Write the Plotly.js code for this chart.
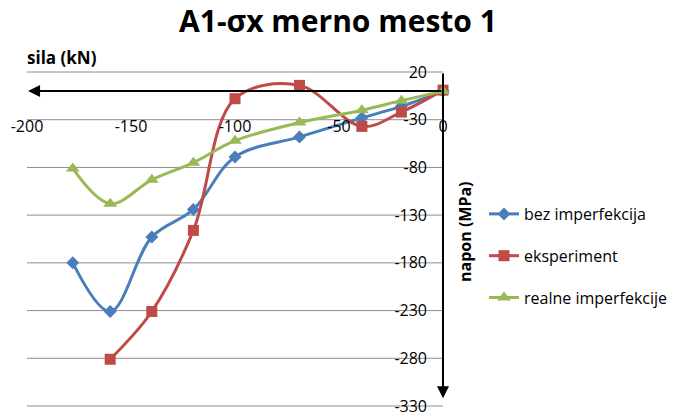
<!DOCTYPE html>
<html><head><meta charset="utf-8">
<script src="https://cdn.plot.ly/plotly-3.0.1.min.js"></script>
<style>body{margin:0;background:#fff}#c{width:681px;height:417px}</style>
</head><body><div id="c"></div>
<script>
const seriesNames = ['bez imperfekcija', 'eksperiment', 'realne imperfekcije'];
const xBez = [-178, -160, -140, -120, -100, -69, -39, -20, 0];
const yBez = [-180, -231, -153, -124, -69, -48, -28, -16, 0];
const xEks = [-160, -140, -120, -100, -69, -39, -20, 0];
const yEks = [-281, -231, -146, -8, 6, -37, -22, 1];
const xReal = [-178, -160, -140, -120, -100, -69, -39, -20, 0];
const yReal = [-81, -118, -93, -75, -52, -33, -20, -10, 0];
const xTicks = [-200, -150, -100, -50, 0];
const yTicks = [20, -30, -80, -130, -180, -230, -280, -330];

const FONT = 'Open Sans, Noto Sans, sans-serif';
const W = 681, H = 417;
const M = {l: 27, r: 228, t: 60, b: 0};
const ppx = 416 / 200;                       // pixels per kN
const xRight = 10 / ppx;                     // extend so the 0 label is not at the edge
const plotH = H - M.t - M.b, plotW = W - M.l - M.r;
const px2py = p => (H - M.b - p) / plotH;   // pixel row -> paper fraction
const px2px = p => (p - M.l) / plotW;       // pixel col -> paper fraction
const ppu = 334 / 350;                       // pixels per MPa
const yTop = 20 + (72 - M.t) / ppu, yBot = -330 - (H - M.b - 406) / ppu;

const mk = (name, x, y, color, symbol, size, g) => ({
  type: 'scatter', mode: 'lines+markers', name, x, y, legendgroup: g,
  line: {color, width: 3, shape: 'spline', smoothing: 1},
  marker: {color, symbol, size}
});
const data = [
  mk(seriesNames[0], xBez, yBez, '#4A7EBB', 'diamond', 10, 'a'),
  mk(seriesNames[1], xEks, yEks, '#BE4B48', 'square', 11, 'b'),
  mk(seriesNames[2], xReal, yReal, '#98B954', 'triangle-up', 12, 'c')
];
const layout = {
  width: W, height: H, margin: M,
  paper_bgcolor: '#fff', plot_bgcolor: 'rgba(0,0,0,0)',
  font: {family: FONT, color: '#000', size: 16},
  title: {text: '<b>A1-σx merno mesto 1</b>', x: 338 / W, xref: 'container', xanchor: 'center',
          y: 1 - 21 / H, yref: 'container', yanchor: 'middle', font: {size: 30, family: FONT, color: '#000'}},
  xaxis: {range: [-200, xRight], tickvals: xTicks, ticktext: xTicks.map(String),
          anchor: 'free', position: px2py(115), showline: false, showgrid: false, zeroline: false,
          ticks: '', ticklabeloverflow: 'allow', tickfont: {size: 16, family: FONT, color: '#000'}},
  yaxis: {range: [yBot, yTop], tickvals: yTicks, ticktext: yTicks.map(String), side: 'left',
          anchor: 'free', position: px2px(443), overlaying: undefined,
          ticklabelposition: 'outside', ticklabelstandoff: 16, showline: false, zeroline: false,
          showgrid: false, ticks: '',
          tickfont: {size: 16, family: FONT, color: '#000'}},
  shapes: yTicks.map(v => ({type: 'line', xref: 'x', yref: 'y', x0: -200, x1: 0, y0: v, y1: v,
          line: {color: '#8e8e8e', width: 1}, layer: 'below'})),
  showlegend: true,
  legend: {x: 484 / W, xref: 'container', xanchor: 'left', y: 1 - 256 / H, yref: 'container', yanchor: 'middle',
           font: {size: 16, family: FONT, color: '#000'}, tracegroupgap: 18, bgcolor: 'rgba(0,0,0,0)'},
  annotations: [
    {x: -199.5, y: 0, ax: 0, ay: 0, xref: 'x', yref: 'y', axref: 'x', ayref: 'y', text: '',
     showarrow: true, arrowhead: 2, arrowsize: 1.2, arrowwidth: 2, arrowcolor: '#000', standoff: 0},
    {x: 0, y: -322, ax: 0, ay: 20, xref: 'x', yref: 'y', axref: 'x', ayref: 'y', text: '',
     showarrow: true, arrowhead: 2, arrowsize: 1.2, arrowwidth: 2, arrowcolor: '#000', standoff: 0},
    {text: '<b>sila (kN)</b>', xref: 'paper', yref: 'paper', x: px2px(25), xanchor: 'left',
     y: px2py(57), yanchor: 'middle', showarrow: false, font: {size: 17, family: FONT, color: '#000'}},
    {text: '<b>napon (MPa)</b>', xref: 'paper', yref: 'paper', x: px2px(465), xanchor: 'center',
     y: px2py(232), yanchor: 'middle', textangle: -90, showarrow: false, font: {size: 16, family: FONT, color: '#000'}}
  ]
};
Plotly.newPlot('c', data, layout, {displayModeBar: false, staticPlot: true});
</script></body></html>
